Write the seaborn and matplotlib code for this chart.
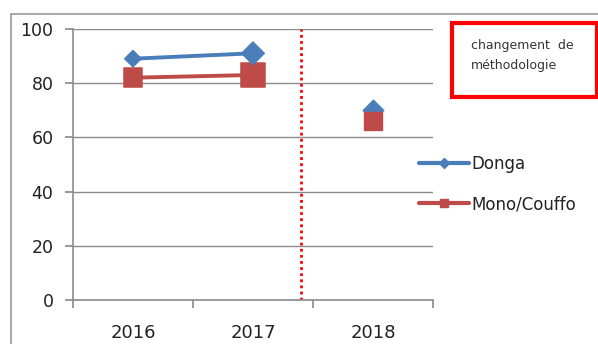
import pandas as pd
import seaborn as sns
import matplotlib.pyplot as plt
from matplotlib.patches import Rectangle
from matplotlib.lines import Line2D

years = ["2016", "2017", "2018"]
donga = [89, 91, 70]
mono_couffo = [82, 83, 66]
# marker sizes as drawn in the picture (points^2)
donga_sizes = [75, 140, 110]
mono_sizes = [185, 290, 170]
y_ticks = [0, 20, 40, 60, 80, 100]

blue = "#4A7EBB"
red = "#BE4B48"

sns.set_theme(style="white")
plt.rcParams["font.family"] = ["DejaVu Sans"]

fig = plt.figure(figsize=(5.98, 3.44), dpi=100)
ax = fig.add_axes([0.122, 0.128, 0.602, 0.788])

# outer chart frame
fig.patches.append(Rectangle((0.018, -0.05), 1.1, 1.009, transform=fig.transFigure,
                             fill=False, edgecolor="#9a9a9a", linewidth=1.2))

x = [0, 1, 2]
# lines only connect 2016-2017 (methodology changed in 2018)
ax.plot(x[:2], donga[:2], color=blue, lw=2.8, zorder=3)
ax.plot(x[:2], mono_couffo[:2], color=red, lw=2.8, zorder=3)

df_d = pd.DataFrame({"x": x, "v": donga, "s": donga_sizes})
df_m = pd.DataFrame({"x": x, "v": mono_couffo, "s": mono_sizes})
sns.scatterplot(data=df_m.iloc[:2], x="x", y="v", size="s", sizes=(mono_sizes[0], mono_sizes[1]),
                marker="s", color=red, edgecolor=red, ax=ax, legend=False, zorder=4)
sns.scatterplot(data=df_d.iloc[:2], x="x", y="v", size="s", sizes=(donga_sizes[0], donga_sizes[1]),
                marker="D", color=blue, edgecolor=blue, ax=ax, legend=False, zorder=5)
# 2018 points (square drawn over the diamond)
ax.scatter([2], [donga[2]], s=donga_sizes[2], marker="D", color=blue, zorder=4)
ax.scatter([2], [mono_couffo[2]], s=mono_sizes[2], marker="s", color=red, zorder=5)

ax.axvline(1.4, color="#FF0000", ls=(0, (1, 1.2)), lw=2, zorder=2)

ax.set_xlim(-0.5, 2.5)
ax.set_ylim(0, 100)
ax.set_yticks(y_ticks)
ax.set_yticklabels([str(t) for t in y_ticks], fontsize=12.5, color="#222222")
ax.set_xticks([-0.5, 0.5, 1.5, 2.5])
ax.set_xticklabels([])
ax.set_xticks(x, minor=True)
ax.set_xticklabels(years, minor=True, fontsize=13, color="#222222")
ax.tick_params(axis="x", which="minor", length=0, pad=17)
ax.tick_params(axis="x", which="major", length=6, color="#8c8c8c", direction="out", bottom=True)
ax.tick_params(axis="y", length=6, color="#8c8c8c", direction="out", left=True, pad=8)
ax.grid(axis="y", color="#8c8c8c", lw=1)
ax.set_axisbelow(True)
for side in ["top", "right"]:
    ax.spines[side].set_visible(False)
for side in ["left", "bottom"]:
    ax.spines[side].set_color("#8c8c8c")
    ax.spines[side].set_linewidth(1.2)
ax.set_xlabel("")
ax.set_ylabel("")

handles = [Line2D([], [], color=blue, lw=3, marker="D", markersize=5),
           Line2D([], [], color=red, lw=3, marker="s", markersize=6)]
fig.legend(handles, ["Donga", "Mono/Couffo"], loc="upper left",
           bbox_to_anchor=(0.675, 0.594), frameon=False, fontsize=12,
           handlelength=3.0, handletextpad=0.15, labelspacing=1.35,
           labelcolor="#222222")

fig.patches.append(Rectangle((452 / 598, 1 - 97 / 344), 145 / 598, 74 / 344,
                             transform=fig.transFigure, fill=False,
                             edgecolor="#FF0000", linewidth=3))
fig.text(471 / 598, 1 - 45 / 344, "changement  de", fontsize=9,
         va="center", ha="left", color="#333333")
fig.text(471 / 598, 1 - 66 / 344, "méthodologie", fontsize=9,
         va="center", ha="left", color="#333333")

fig.savefig("out.png", dpi=100)
